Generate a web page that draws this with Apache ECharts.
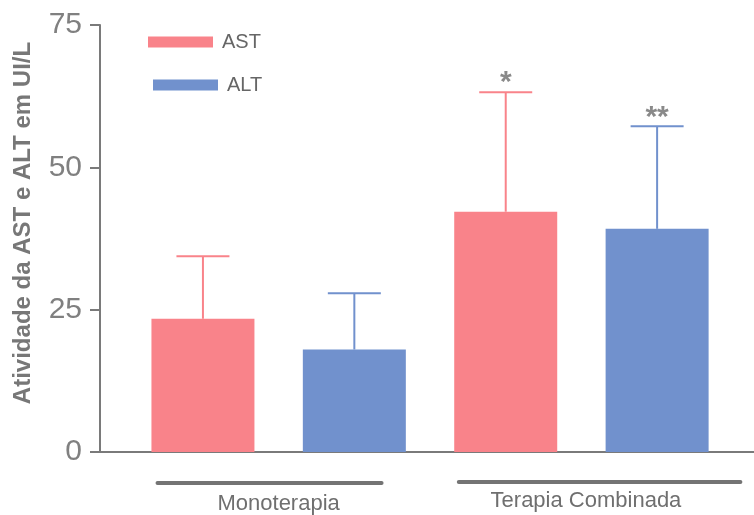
<!DOCTYPE html>
<html>
<head>
<meta charset="utf-8">
<script src="https://cdn.jsdelivr.net/npm/echarts@6/dist/echarts.min.js"></script>
<style>
  html, body { margin: 0; padding: 0; background: #fff; }
  #chart { width: 754px; height: 515px; }
</style>
</head>
<body>
<div id="chart"></div>
<script>
// Treatment groups and measured enzymes
const groups = ['Monoterapia', 'Terapia Combinada'];
const measures = ['AST', 'ALT'];

// Mean activity (UI/L) and standard deviation per group
const astMean = [23.4, 42.2];
const astSd = [11.0, 21.0];
const altMean = [18.0, 39.2];
const altSd = [9.9, 18.0];

// Significance marks above the error bars
const astMarks = ['', '*'];
const altMarks = ['', '**'];

// Y axis ticks
const yTicks = [0, 25, 50, 75];

const FONT = '"Liberation Sans", Arial, sans-serif';
const GREY = '#7a7a7a';
const COLORS = { AST: '#f9838a', ALT: '#7191cd' };

// Each bar sits on its own unit slot of the x scale: group g, measure m
const slot = (g, m) => 1 + 2 * g + m;

// Group underline extents and label centres, in x-scale units
const groupSpan = [[0.70, 2.18], [2.69, 4.55]];
const groupLabelX = [1.5, 3.53];
const groupLineDy = [31, 30];
const groupLabelDy = [52, 49];

function barSeries(name, means, m) {
  return {
    name: name,
    type: 'bar',
    barWidth: 103,
    barGap: '-100%',
    itemStyle: { color: COLORS[name] },
    z: 2,
    data: means.map((v, i) => [slot(i, m), v])
  };
}

function errorSeries(name, means, sds, marks, m) {
  const color = COLORS[name];
  return {
    name: name + ' DP',
    type: 'custom',
    clip: false,
    silent: true,
    z: 1,
    data: means.map((v, i) => [slot(i, m), v, v + sds[i]]),
    renderItem(params, api) {
      const base = api.coord([api.value(0), api.value(1)]);
      const top = api.coord([api.value(0), api.value(2)]);
      const half = 26.5;
      const children = [
        { type: 'line', shape: { x1: base[0], y1: base[1], x2: top[0], y2: top[1] },
          style: { stroke: color, lineWidth: 2 } },
        { type: 'line', shape: { x1: top[0] - half, y1: top[1], x2: top[0] + half, y2: top[1] },
          style: { stroke: color, lineWidth: 2 } }
      ];
      const mark = marks[params.dataIndex];
      if (mark) {
        children.push({
          type: 'text',
          style: {
            text: mark, x: top[0], y: top[1] - 9,
            align: 'center', verticalAlign: 'middle',
            fill: '#8a8a8a', fontSize: 30, fontWeight: 'bold', fontFamily: FONT
          }
        });
      }
      return { type: 'group', children: children };
    }
  };
}

// Underlines and names of the treatment groups below the x axis
const groupSeries = {
  type: 'custom',
  clip: false,
  silent: true,
  data: groups.map((g, i) => [groupLabelX[i], 0]),
  renderItem(params, api) {
    const i = params.dataIndex;
    const a = api.coord([groupSpan[i][0], 0]);
    const b = api.coord([groupSpan[i][1], 0]);
    const c = api.coord([groupLabelX[i], 0]);
    return {
      type: 'group',
      children: [
        { type: 'line', shape: { x1: a[0], y1: a[1] + groupLineDy[i], x2: b[0], y2: b[1] + groupLineDy[i] },
          style: { stroke: '#747474', lineWidth: 4, lineCap: 'round' } },
        { type: 'text',
          style: { text: groups[i], x: c[0], y: c[1] + groupLabelDy[i],
                   align: 'center', verticalAlign: 'middle',
                   fill: '#6f6f6f', fontSize: 22, fontFamily: FONT } }
      ]
    };
  }
};

const legendText = { color: '#666', fontSize: 20, fontFamily: FONT, padding: [0, 0, 0, 4] };

const chart = echarts.init(document.getElementById('chart'));
chart.setOption({
  animation: false,
  backgroundColor: '#fff',
  grid: { left: 100, right: 0, top: 25, bottom: 63 },
  legend: [
    { data: [measures[0]], left: 148, top: 32, padding: 0, icon: 'rect',
      itemWidth: 65, itemHeight: 11, textStyle: legendText },
    { data: [measures[1]], left: 153, top: 75, padding: 0, icon: 'rect',
      itemWidth: 65, itemHeight: 11, textStyle: legendText }
  ],
  xAxis: {
    type: 'value',
    min: 0.32,
    max: 4.64,
    axisLine: { show: true, lineStyle: { color: GREY, width: 2 } },
    axisTick: { show: false },
    axisLabel: { show: false },
    splitLine: { show: false }
  },
  yAxis: {
    type: 'value',
    min: yTicks[0],
    max: yTicks[yTicks.length - 1],
    interval: yTicks[1] - yTicks[0],
    name: 'Atividade da AST e ALT em UI/L',
    nameLocation: 'middle',
    nameGap: 65,
    nameTextStyle: { color: '#777', fontSize: 24, fontWeight: 'bold', fontFamily: FONT,
                     padding: [0, 0, 0, 31] },
    axisLine: { show: true, lineStyle: { color: GREY, width: 2 } },
    axisTick: { show: true, length: 10, lineStyle: { color: GREY, width: 2 } },
    axisLabel: { color: '#808080', fontSize: 30, fontFamily: FONT, margin: 18 },
    splitLine: { show: false }
  },
  series: [
    barSeries('AST', astMean, 0),
    barSeries('ALT', altMean, 1),
    errorSeries('AST', astMean, astSd, astMarks, 0),
    errorSeries('ALT', altMean, altSd, altMarks, 1),
    groupSeries
  ]
});
</script>
</body>
</html>
